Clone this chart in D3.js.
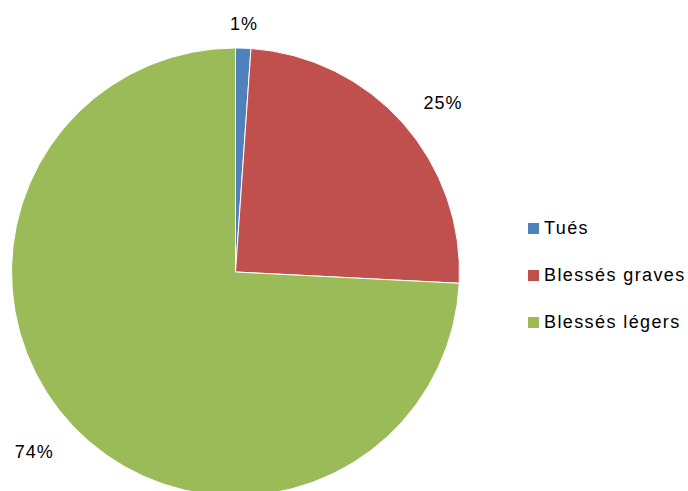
<!DOCTYPE html>
<html>
<head>
<meta charset="utf-8">
<script src="https://cdn.jsdelivr.net/npm/d3@7"></script>
<style>
  body { margin: 0; background: #fff; }
  svg { font-family: "Liberation Sans", Arial, sans-serif; }
</style>
</head>
<body>
<svg id="chart" width="688" height="491"></svg>
<script>
const categories = ["Tués", "Blessés graves", "Blessés légers"]
const values = [1.1, 24.7, 74.2]
const pctLabels = ["1%", "25%", "74%"]
const colors = ["#4f81bd", "#c0504d", "#9bbb59"]

const width = 688, height = 491
const cx = 235.5, cy = 272, r = 224

const svg = d3.select("#chart")

const pie = d3.pie().sort(null).value(d => d)
const arcs = pie(values)
const arc = d3.arc().innerRadius(0).outerRadius(r)

const g = svg.append("g").attr("transform", `translate(${cx},${cy})`)

g.selectAll("path")
  .data(arcs)
  .join("path")
    .attr("d", arc)
    .attr("fill", (d, i) => colors[i])
    .attr("stroke", "#fff")
    .attr("stroke-width", 1)

// labels just outside the pie (best fit: distance + small angle shift)
const labelOff = [24, 44, 46]
const angShift = [0, 0.04, 0.03]
g.selectAll("text.pct")
  .data(arcs)
  .join("text")
    .attr("class", "pct")
    .attr("transform", (d, i) => {
      const a = (d.startAngle + d.endAngle) / 2 + angShift[i]
      const rr = r + labelOff[i]
      return `translate(${Math.sin(a) * rr},${-Math.cos(a) * rr})`
    })
    .attr("text-anchor", "middle")
    .attr("dy", "0.35em")
    .attr("font-size", 18)
    .attr("letter-spacing", 1)
    .attr("fill", "#000")
    .text((d, i) => pctLabels[i])

// legend
const legend = svg.append("g").attr("transform", "translate(528,228)")
const row = legend.selectAll("g")
  .data(categories)
  .join("g")
    .attr("transform", (d, i) => `translate(0,${i * 47})`)
row.append("rect")
    .attr("x", 0).attr("y", -5)
    .attr("width", 11).attr("height", 11)
    .attr("fill", (d, i) => colors[i])
row.append("text")
    .attr("x", 16)
    .attr("dy", "0.36em")
    .attr("font-size", 18)
    .attr("letter-spacing", 1.4)
    .attr("fill", "#000")
    .text(d => d)
</script>
</body>
</html>
